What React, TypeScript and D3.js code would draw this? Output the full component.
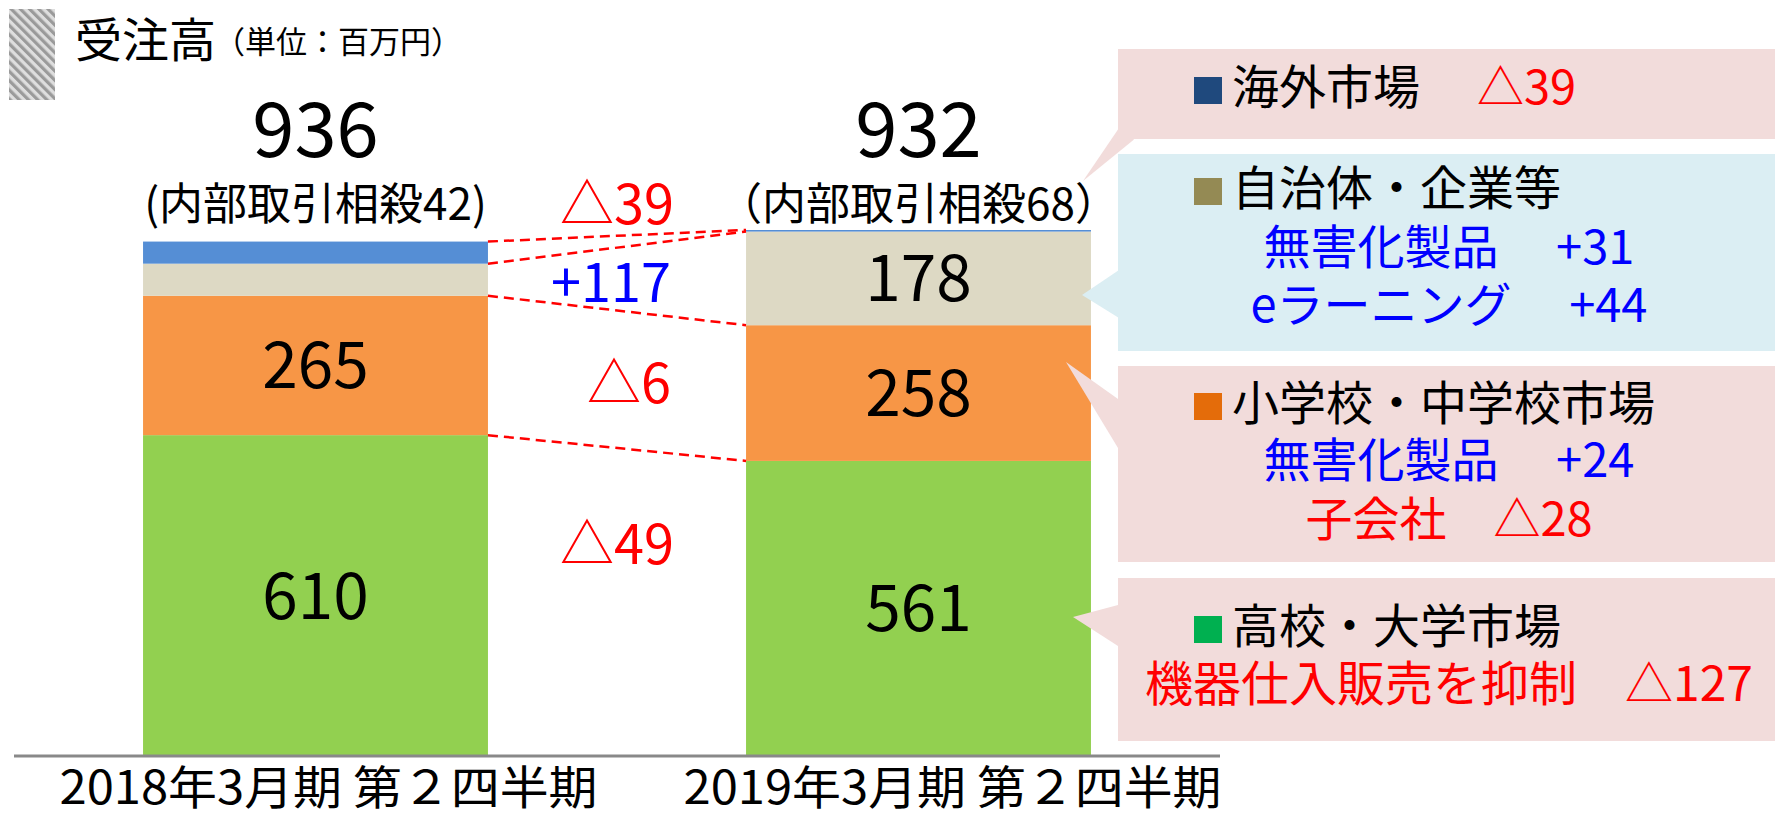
import * as d3 from "d3";

const categories = ["2018年3月期 第２四半期", "2019年3月期 第２四半期"];
const segmentKeys = ["高校・大学市場", "小学校・中学校市場", "自治体・企業等", "海外市場"];
const highSchoolUniv = [610, 561];
const elemJunior = [265, 258];
const localGovCorp = [61, 178];
const overseas = [42, 3];
const totalLabels = ["936", "932"];
const offsetLabels = ["(内部取引相殺42)", "（内部取引相殺68）"];
const deltaLabels = ["△39", "+117", "△6", "△49"];
const deltaColors = ["#FF0000", "#0000FF", "#FF0000", "#FF0000"];

const barColors = ["#92D050", "#F79646", "#DDD9C4", "#558ED5"];
const markerColors = ["#00B050", "#E46C0A", "#948A54", "#1F497D"];

const W = 1775;
const H = 813;
const FONT = "'Noto Sans CJK JP', 'Noto Sans', sans-serif";

export default function App() {
  const rows = categories.map((c, i) => ({
    cat: c,
    [segmentKeys[0]]: highSchoolUniv[i],
    [segmentKeys[1]]: elemJunior[i],
    [segmentKeys[2]]: localGovCorp[i],
    [segmentKeys[3]]: overseas[i],
  }));
  const series = d3.stack<any>().keys(segmentKeys)(rows);

  const x = d3
    .scaleBand()
    .domain(categories)
    .range([14, 1220])
    .paddingInner(0.428)
    .paddingOuter(0.214);
  const y = d3.scaleLinear().domain([0, 1000]).range([756, 230]);
  const bw = x.bandwidth();

  const gapL = x(categories[0])! + bw;
  const gapR = x(categories[1])!;
  const gapMid = (gapL + gapR) / 2;
  const deltaY = [224, 302, 403, 564];
  const deltaDx = [0, -6, 12, 0];

  // callout boxes: rect, pointer wedge, heading and sub lines
  const callouts = [
    {
      fill: "#F2DCDB",
      y0: 49,
      y1: 139,
      wedge: [[1119, 128], [1134, 139.5], [1083, 181]],
      marker: markerColors[3],
      head: segmentKeys[3],
      headY: 104,
      extra: { text: "△39", color: "#FF0000", x: 1477 },
      lines: [] as { text: string; color: string; y: number }[],
    },
    {
      fill: "#DBEEF3",
      y0: 154,
      y1: 351,
      wedge: [[1119, 270], [1082, 295], [1119, 318]],
      marker: markerColors[2],
      head: segmentKeys[2],
      headY: 205,
      extra: null,
      lines: [
        { text: "無害化製品　 +31", color: "#0000FF", y: 264 },
        { text: "eラーニング　 +44", color: "#0000FF", y: 322 },
      ],
    },
    {
      fill: "#F2DCDB",
      y0: 366,
      y1: 562,
      wedge: [[1118, 399], [1066, 362], [1118, 448]],
      marker: markerColors[1],
      head: segmentKeys[1],
      headY: 420,
      extra: null,
      lines: [
        { text: "無害化製品　 +24", color: "#0000FF", y: 477 },
        { text: "子会社　△28", color: "#FF0000", y: 536 },
      ],
    },
    {
      fill: "#F2DCDB",
      y0: 578,
      y1: 741,
      wedge: [[1118, 605], [1073, 617], [1118, 646]],
      marker: markerColors[0],
      head: segmentKeys[0],
      headY: 643,
      extra: null,
      lines: [{ text: "機器仕入販売を抑制　△127", color: "#FF0000", y: 701 }],
    },
  ];

  return (
    <svg
      width={W}
      height={H}
      style={{ position: "absolute", left: 0, top: 0, background: "#fff" }}
      fontFamily={FONT}
    >
      <defs>
        <pattern
          id="hatch"
          width="6.5"
          height="6.5"
          patternUnits="userSpaceOnUse"
          patternTransform="rotate(-45)"
        >
          <rect width="6.5" height="6.5" fill="#dedede" />
          <rect width="3.2" height="6.5" fill="#9a9a9a" />
        </pattern>
      </defs>

      {/* title */}
      <rect x={9} y={9} width={46} height={91} fill="url(#hatch)" />
      <text x={75} y={57} fontSize={47} fill="#000">
        受注高
      </text>
      <text x={214} y={53} fontSize={31} fill="#000">
        （単位：百万円）
      </text>

      {/* bars */}
      {series.map((s, si) => (
        <g key={s.key} fill={barColors[si]}>
          {s.map((d, i) => (
            <rect
              key={i}
              x={x(categories[i])}
              y={y(d[1])}
              width={bw}
              height={Math.max(y(d[0]) - y(d[1]), 1.5)}
            />
          ))}
        </g>
      ))}

      {/* segment value labels */}
      {series.map((s) =>
        s.map((d, i) =>
          d[1] - d[0] >= 100 ? (
            <text
              key={s.key + i}
              x={x(categories[i])! + bw / 2}
              y={(y(d[0]) + y(d[1])) / 2}
              dy="0.36em"
              textAnchor="middle"
              fontSize={64}
              fill="#000"
            >
              {d[1] - d[0]}
            </text>
          ) : null,
        ),
      )}

      {/* connectors */}
      {series.map((s) => (
        <line
          key={"c" + s.key}
          x1={gapL}
          y1={y(s[0][1])}
          x2={gapR}
          y2={y(s[1][1])}
          stroke="#FF0000"
          strokeWidth={2.5}
          strokeDasharray="10,6"
        />
      ))}

      {/* totals */}
      {categories.map((c, i) => (
        <g key={"t" + c}>
          <text
            x={x(c)! + bw / 2}
            y={157}
            textAnchor="middle"
            fontSize={76}
            fill="#000"
          >
            {totalLabels[i]}
          </text>
          <text
            x={x(c)! + bw / 2}
            y={220}
            textAnchor="middle"
            fontSize={44}
            fill="#000"
          >
            {offsetLabels[i]}
          </text>
        </g>
      ))}

      {/* deltas */}
      {deltaLabels.map((t, i) => (
        <text
          key={"d" + i}
          x={gapMid + deltaDx[i]}
          y={deltaY[i]}
          textAnchor="middle"
          fontSize={54}
          fill={deltaColors[i]}
        >
          {t}
        </text>
      ))}

      {/* axis */}
      <line x1={14} x2={1220} y1={756} y2={756} stroke="#898989" strokeWidth={3} />
      {categories.map((c, i) => (
        <text
          key={"a" + c}
          x={x(c)! + bw / 2 + (i === 0 ? 13 : 34)}
          y={804}
          textAnchor="middle"
          fontSize={46}
          textLength={538}
          lengthAdjust="spacingAndGlyphs"
          fill="#000"
        >
          {c}
        </text>
      ))}

      {/* callouts */}
      {callouts.map((co, k) => (
        <g key={"co" + k}>
          <rect x={1118} y={co.y0} width={W - 1118} height={co.y1 - co.y0} fill={co.fill} />
          <polygon points={co.wedge.map((p) => p.join(",")).join(" ")} fill={co.fill} />
          <rect x={1194} y={co.headY - 27} width={28} height={27} fill={co.marker} />
          <text x={1232} y={co.headY} fontSize={47} fill="#000">
            {co.head}
          </text>
          {co.extra && (
            <text x={co.extra.x} y={co.headY} fontSize={47} fill={co.extra.color}>
              {co.extra.text}
            </text>
          )}
          {co.lines.map((l, j) => (
            <text
              key={j}
              x={1449}
              y={l.y}
              textAnchor="middle"
              fontSize={j === 0 && k === 3 ? 48 : 47}
              fill={l.color}
              style={{ whiteSpace: "pre" }}
            >
              {l.text}
            </text>
          ))}
        </g>
      ))}
    </svg>
  );
}
